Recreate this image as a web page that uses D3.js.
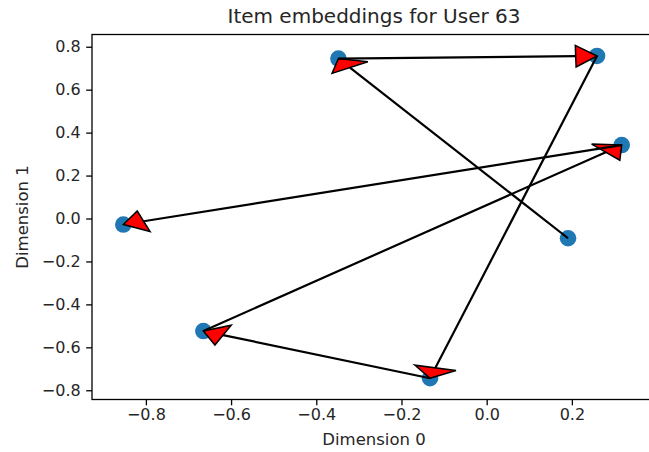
<!DOCTYPE html>
<html>
<head>
<meta charset="utf-8">
<script src="https://cdn.jsdelivr.net/npm/d3@7.9.0/dist/d3.min.js"></script>
<style>
  body { margin: 0; background: #fff; }
  svg { display: block; font-family: 'DejaVu Sans', sans-serif; }
</style>
</head>
<body>
<svg id="chart"></svg>
<script>
// item embedding coordinates, in the order the user visited them
const dim0 = [0.191, -0.348, 0.259, -0.133, -0.665, 0.317, -0.853];
const dim1 = [-0.092, 0.745, 0.757, -0.744, -0.524, 0.342, -0.028];

const xTicks = [-0.8, -0.6, -0.4, -0.2, 0.0, 0.2];
const yTicks = [-0.8, -0.6, -0.4, -0.2, 0.0, 0.2, 0.4, 0.6, 0.8];

const title = 'Item embeddings for User 63';
const xLabel = 'Dimension 0';
const yLabel = 'Dimension 1';

const width = 649;
const height = 452;
const plot = { left: 92, right: 656, top: 34.5, bottom: 399.5 };

// arrow head size in data units (like plt.arrow)
const headWidth = 0.1;
const headLength = 0.05;

const svg = d3.select('#chart')
  .attr('width', width)
  .attr('height', height);

svg.append('rect')
  .attr('width', width)
  .attr('height', height)
  .attr('fill', '#fff');

const x = d3.scaleLinear()
  .domain([-0.9265, 0.3975])
  .range([plot.left, plot.right]);

const y = d3.scaleLinear()
  .domain([-0.843, 0.857])
  .range([plot.bottom, plot.top]);

const points = dim0.map((d, i) => ({ x: d, y: dim1[i] }));

// scatter first, arrows drawn over it
svg.append('g')
  .selectAll('circle')
  .data(points)
  .join('circle')
    .attr('cx', d => x(d.x))
    .attr('cy', d => y(d.y))
    .attr('r', 8.3)
    .attr('fill', '#1f77b4');

const arrows = d3.pairs(points).map(([a, b]) => {
  const dx = b.x - a.x, dy = b.y - a.y;
  const len = Math.hypot(dx, dy);
  const ux = dx / len, uy = dy / len;
  const base = { x: b.x - headLength * ux, y: b.y - headLength * uy };
  const px = -uy * headWidth / 2, py = ux * headWidth / 2;
  return {
    start: a,
    base: base,
    head: [b, { x: base.x + px, y: base.y + py }, { x: base.x - px, y: base.y - py }]
  };
});

const arrowG = svg.append('g');

arrows.forEach(a => {
  arrowG.append('line')
    .attr('x1', x(a.start.x))
    .attr('y1', y(a.start.y))
    .attr('x2', x(a.base.x))
    .attr('y2', y(a.base.y))
    .attr('stroke', '#000')
    .attr('stroke-width', 2.2);

  arrowG.append('path')
    .attr('d', d3.line().x(p => x(p.x)).y(p => y(p.y))(a.head) + 'Z')
    .attr('fill', 'red')
    .attr('stroke', '#000')
    .attr('stroke-width', 1.5)
    .attr('stroke-linejoin', 'miter');
});

// axes
const xAxis = d3.axisBottom(x)
  .tickValues(xTicks)
  .tickFormat(d3.format('.1f'))
  .tickSize(5.8)
  .tickPadding(3.5)
  .tickSizeOuter(0);

const yAxis = d3.axisLeft(y)
  .tickValues(yTicks)
  .tickFormat(d3.format('.1f'))
  .tickSize(5.8)
  .tickPadding(5.5)
  .tickSizeOuter(0);

const gx = svg.append('g')
  .attr('transform', `translate(0, ${plot.bottom})`)
  .call(xAxis);

const gy = svg.append('g')
  .attr('transform', `translate(${plot.left}, 0)`)
  .call(yAxis);

[gx, gy].forEach(g => {
  g.attr('font-family', "'DejaVu Sans', sans-serif").attr('font-size', 16);
  g.select('.domain').remove();
  g.selectAll('.tick line').attr('stroke', '#000').attr('stroke-width', 1.3);
  g.selectAll('.tick text').attr('fill', '#262626');
});

// spines (right one falls outside the picture)
svg.append('rect')
  .attr('x', plot.left)
  .attr('y', plot.top)
  .attr('width', plot.right - plot.left)
  .attr('height', plot.bottom - plot.top)
  .attr('fill', 'none')
  .attr('stroke', '#000')
  .attr('stroke-width', 1.3);

const cx = (plot.left + plot.right) / 2;

svg.append('text')
  .attr('x', cx)
  .attr('y', 23)
  .attr('text-anchor', 'middle')
  .attr('font-size', 20)
  .attr('fill', '#262626')
  .text(title);

svg.append('text')
  .attr('x', cx)
  .attr('y', 445)
  .attr('text-anchor', 'middle')
  .attr('font-size', 16.5)
  .attr('fill', '#262626')
  .text(xLabel);

svg.append('text')
  .attr('transform', `translate(28, ${(plot.top + plot.bottom) / 2}) rotate(-90)`)
  .attr('text-anchor', 'middle')
  .attr('font-size', 16.5)
  .attr('fill', '#262626')
  .text(yLabel);
</script>
</body>
</html>
